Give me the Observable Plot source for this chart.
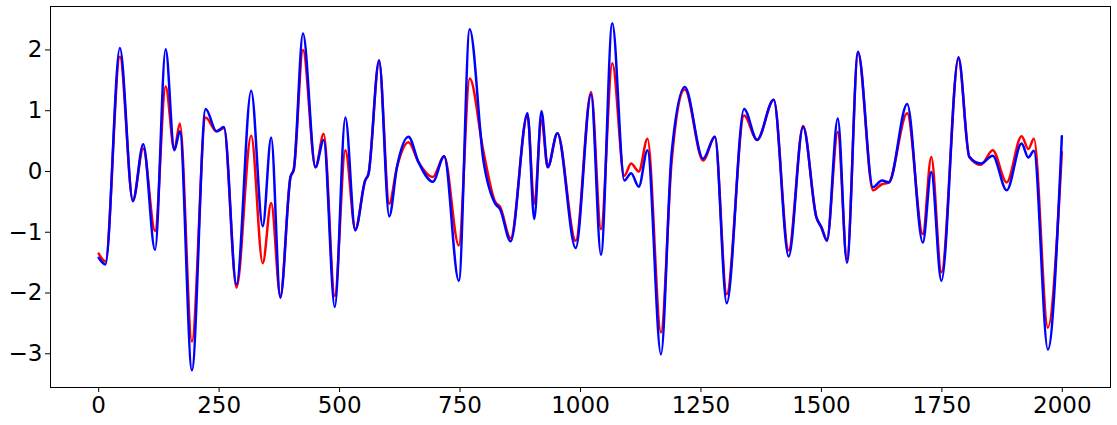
<!DOCTYPE html>
<html><head><meta charset="utf-8">
<script src="https://cdn.jsdelivr.net/npm/d3@7"></script>
<script src="https://cdn.jsdelivr.net/npm/@observablehq/plot@0.6"></script>
<style>body{margin:0;background:#fff}</style>
</head><body><div id="chart"></div>
<script>
const xs = [0,14,44,71,92.5,117,139,157,168.5,193.5,222,244.5,260,286,316.5,340.5,358,377,398,405,424,450,467,490,512,532.5,553,560,582,603,619,643,664,693.5,717,747.5,770,798.5,823,833,855,890,904,919,932,952,990,1022,1042.5,1066,1091,1105,1121,1139,1167,1189,1216.5,1254.5,1279,1303.5,1339.5,1366.5,1401,1432,1462,1489.5,1500,1511.5,1534,1553,1576,1607,1625.5,1640,1678,1710.5,1728,1749,1784.5,1807,1831,1855.5,1884.5,1915.5,1929.5,1941,1970,1999];
const redVals = [-1.35,-1.48,1.89,-0.47,0.38,-0.98,1.40,0.36,0.79,-2.80,0.89,0.66,0.71,-1.91,0.59,-1.51,-0.52,-2.05,-0.10,0.03,2.00,0.07,0.62,-2.05,0.35,-0.95,-0.15,-0.04,1.80,-0.53,0.07,0.48,0.15,-0.09,0.25,-1.22,1.53,0.33,-0.50,-0.58,-1.10,0.92,-0.53,0.85,0.07,0.63,-1.14,1.31,-0.95,1.78,-0.07,0.13,0.00,0.54,-2.65,0.15,1.35,0.18,0.57,-2.02,0.92,0.52,1.18,-1.30,0.75,-0.75,-0.92,-1.12,0.65,-1.45,1.95,-0.31,-0.21,-0.18,0.96,-1.03,0.24,-1.66,1.85,0.24,0.11,0.35,-0.18,0.58,0.37,0.54,-2.57,0.32];
const blueVals = [-1.42,-1.53,2.03,-0.49,0.45,-1.29,2.01,0.35,0.66,-3.27,1.03,0.66,0.73,-1.86,1.33,-0.90,0.56,-2.08,-0.09,0.04,2.27,0.07,0.52,-2.23,0.89,-0.97,-0.15,-0.04,1.83,-0.74,0.07,0.57,0.15,-0.17,0.25,-1.80,2.34,0.18,-0.53,-0.62,-1.15,0.96,-0.78,0.99,0.07,0.63,-1.26,1.27,-1.37,2.44,-0.15,-0.03,-0.25,0.35,-3.01,0.29,1.39,0.21,0.57,-2.17,1.03,0.52,1.18,-1.40,0.73,-0.75,-0.92,-1.14,0.87,-1.50,1.97,-0.26,-0.15,-0.18,1.11,-1.17,-0.01,-1.80,1.88,0.24,0.13,0.26,-0.31,0.46,0.23,0.34,-2.93,0.58];
const xTicks = [0,250,500,750,1000,1250,1500,1750,2000];
const yTicks = [-3,-2,-1,0,1,2];

const red = xs.map((x,i)=>({x, y: redVals[i]}));
const blue = xs.map((x,i)=>({x, y: blueVals[i]}));

const chart = Plot.plot({
  width: 1117, height: 425,
  marginLeft: 50, marginRight: 7, marginTop: 6, marginBottom: 38,
  style: {fontFamily: "DejaVu Sans", fontSize: "23px", background: "white", color: "black"},
  x: {domain: [-100, 2100]},
  y: {domain: [-3.555, 2.715]},
  marks: [
    Plot.axisX({ticks: xTicks, tickSize: 5, tickPadding: 4, tickFormat: d3.format("d"), fontSize: 23, label: null}),
    Plot.axisY({ticks: yTicks, tickSize: 5, tickPadding: 3, tickFormat: d3.format("d"), fontSize: 23, label: null}),
    Plot.line(red, {x: "x", y: "y", stroke: "#ff0000", strokeWidth: 2.5, curve: "monotone-x"}),
    Plot.line(blue, {x: "x", y: "y", stroke: "#0000ff", strokeWidth: 2.5, curve: "monotone-x"}),
    Plot.frame({stroke: "black", strokeWidth: 1})
  ]
});
document.getElementById("chart").appendChild(chart);
</script>
</body></html>
